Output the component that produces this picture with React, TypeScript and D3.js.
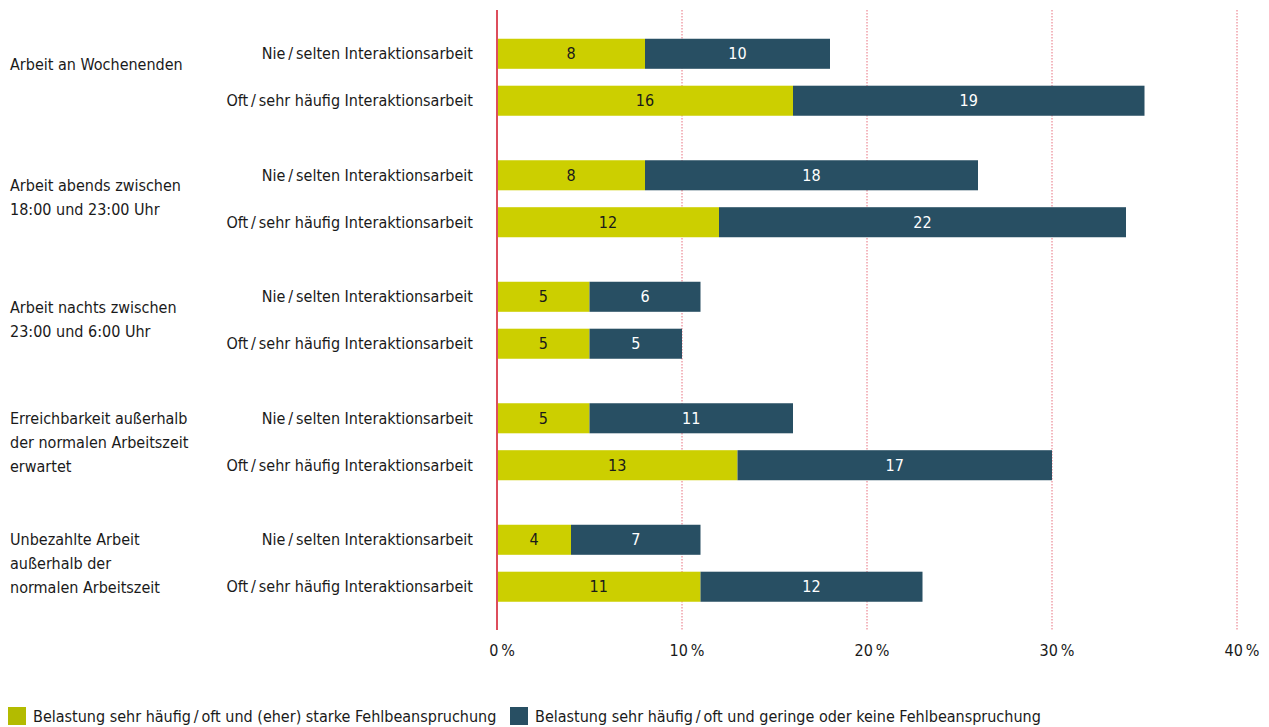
import { useEffect, useRef } from "react";
import * as d3 from "d3";

const groups = [
  ["Arbeit an Wochenenden"],
  ["Arbeit abends zwischen", "18:00 und 23:00 Uhr"],
  ["Arbeit nachts zwischen", "23:00 und 6:00 Uhr"],
  ["Erreichbarkeit außerhalb", "der normalen Arbeitszeit", "erwartet"],
  ["Unbezahlte Arbeit", "außerhalb der", "normalen Arbeitszeit"],
];
const rows = ["Nie\u2009/\u2009selten Interaktionsarbeit", "Oft\u2009/\u2009sehr häufig Interaktionsarbeit"];
// [group][row]
const strong = [
  [8, 16],
  [8, 12],
  [5, 5],
  [5, 13],
  [4, 11],
];
const weak = [
  [10, 19],
  [18, 22],
  [6, 5],
  [11, 17],
  [7, 12],
];
const ticks = [0, 10, 20, 30, 40];
const legend = [
  "Belastung sehr häufig\u2009/\u2009oft und (eher) starke Fehlbeanspruchung",
  "Belastung sehr häufig\u2009/\u2009oft und geringe oder keine Fehlbeanspruchung",
];

const W = 1269;
const H = 727;
const GREEN = "#cccf00";
const BLUE = "#284f63";
const FONT = "'DejaVu Sans Condensed', 'Liberation Sans Narrow', Roboto, sans-serif";

export default function App() {
  const ref = useRef<SVGSVGElement | null>(null);

  useEffect(() => {
    if (!ref.current) return;
    const svg = d3.select(ref.current);
    svg.selectAll("*").remove();

    const x = d3.scaleLinear().domain([0, 40]).range([497, 1237]);
    const y0 = d3
      .scaleBand<number>()
      .domain(d3.range(groups.length))
      .range([16.75, 624.25]);
    const y1 = d3
      .scaleBand<number>()
      .domain([0, 1])
      .range([22, y0.bandwidth() - 22.5])
      .paddingInner(0.36);

    const g = svg.append("g").style("font-family", FONT).style("font-size", "16px");

    // grid
    g.selectAll("line.grid")
      .data(ticks.slice(1))
      .join("line")
      .attr("x1", (d) => x(d))
      .attr("x2", (d) => x(d))
      .attr("y1", 10)
      .attr("y2", 630)
      .attr("stroke", "#e8707e")
      .attr("stroke-width", 1)
      .attr("stroke-dasharray", "1.5,1.5");

    groups.forEach((lines, gi) => {
      const top = y0(gi)!;
      const cy = top + y0.bandwidth() / 2;
      const t = g.append("text").attr("x", 10).attr("fill", "#1a1a1a");
      const first = cy - Math.max(lines.length - 1, 1) * 12 - (lines.length < 3 ? 1.5 : 0);
      lines.forEach((ln, li) => {
        t.append("tspan")
          .attr("x", 10)
          .attr("y", first + li * 24)
          .attr("dy", "0.35em")
          .text(ln);
      });

      rows.forEach((r, ri) => {
        const by = top + y1(ri)!;
        const bh = y1.bandwidth();
        const a = strong[gi][ri];
        const b = weak[gi][ri];
        g.append("text")
          .attr("x", 473)
          .attr("y", by + bh / 2)
          .attr("dy", "0.35em")
          .attr("text-anchor", "end")
          .attr("fill", "#1a1a1a")
          .text(r);
        g.append("rect")
          .attr("x", x(0))
          .attr("y", by)
          .attr("width", x(a) - x(0))
          .attr("height", bh)
          .attr("fill", GREEN);
        g.append("rect")
          .attr("x", x(a))
          .attr("y", by)
          .attr("width", x(a + b) - x(a))
          .attr("height", bh)
          .attr("fill", BLUE);
        g.append("text")
          .attr("x", (x(0) + x(a)) / 2)
          .attr("y", by + bh / 2)
          .attr("dy", "0.35em")
          .attr("text-anchor", "middle")
          .attr("fill", "#1a1a1a")
          .text(a);
        g.append("text")
          .attr("x", (x(a) + x(a + b)) / 2)
          .attr("y", by + bh / 2)
          .attr("dy", "0.35em")
          .attr("text-anchor", "middle")
          .attr("fill", "#ffffff")
          .text(b);
      });
    });

    // zero axis
    g.append("line")
      .attr("x1", x(0))
      .attr("x2", x(0))
      .attr("y1", 10)
      .attr("y2", 630)
      .attr("stroke", "#dd4d5c")
      .attr("stroke-width", 2);

    g.selectAll("text.tick")
      .data(ticks)
      .join("text")
      .attr("x", (d) => x(d) + 5)
      .attr("y", 650)
      .attr("dy", "0.35em")
      .attr("text-anchor", "middle")
      .attr("fill", "#1a1a1a")
      .text((d) => `${d}\u2009%`);

    // legend
    const lx = [8, 510];
    legend.forEach((l, i) => {
      g.append("rect")
        .attr("x", lx[i])
        .attr("y", 707)
        .attr("width", 18)
        .attr("height", 18)
        .attr("fill", i === 0 ? "#b3bb00" : BLUE);
      g.append("text")
        .attr("x", lx[i] + 25)
        .attr("y", 716)
        .attr("dy", "0.35em")
        .attr("fill", "#1a1a1a")
        .text(l);
    });
  }, []);

  return (
    <svg
      ref={ref}
      width={W}
      height={H}
      style={{ position: "absolute", left: 0, top: 0, background: "#fff" }}
    />
  );
}
